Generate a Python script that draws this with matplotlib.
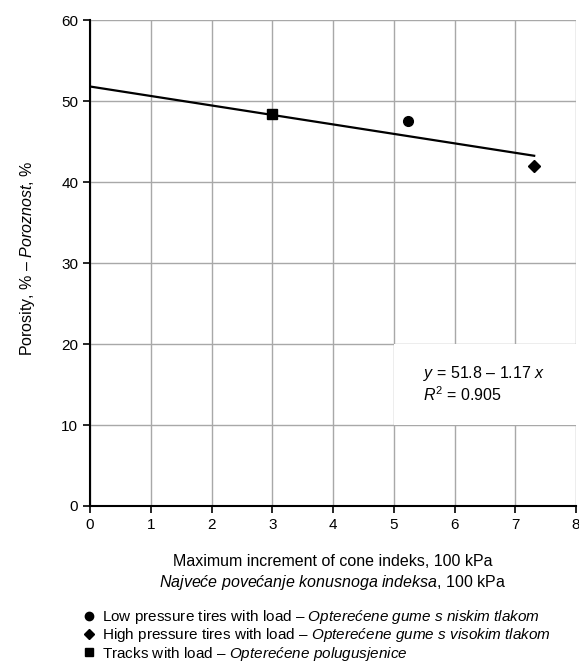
import matplotlib
matplotlib.use("Agg")
import matplotlib.pyplot as plt
from matplotlib.lines import Line2D
from matplotlib.patches import Rectangle

plt.rcParams['font.family'] = ['Liberation Sans', 'DejaVu Sans']
plt.rcParams['mathtext.fontset'] = 'custom'
plt.rcParams['mathtext.rm'] = 'Liberation Sans'
plt.rcParams['mathtext.it'] = 'Liberation Sans:italic'

# podaci sa slike
x_low = [5.24]
y_low = [47.5]
x_high = [7.31]
y_high = [42.0]
x_track = [3.0]
y_track = [48.4]

# regresija iz jednadzbe na grafu
intercept = 51.8
slope = -1.17
x_line = [0, 7.31]

labels = [
    "Low pressure tires with load – $\\mathit{Optere\u0107ene\\ gume\\ s\\ niskim\\ tlakom}$",
    "High pressure tires with load – $\\mathit{Optere\u0107ene\\ gume\\ s\\ visokim\\ tlakom}$",
    "Tracks with load – $\\mathit{Optere\u0107ene\\ polugusjenice}$",
]

fig = plt.figure(figsize=(5.79, 6.70), dpi=100)
ax = fig.add_axes([0.1554, 0.2448, 0.8396, 0.7252])

y_line = [intercept + slope * v for v in x_line]
ax.plot(x_line, y_line, color='black', lw=1.6, zorder=3)
ax.plot(x_low, y_low, 'o', color='black', ms=7, zorder=4)
ax.plot(x_high, y_high, 'D', color='black', ms=6.5, zorder=4)
ax.plot(x_track, y_track, 's', color='black', ms=7, zorder=4)

ax.set_xlim(0, 8)
ax.set_ylim(0, 60)
ax.set_xticks(range(0, 9))
ax.set_yticks(range(0, 61, 10))
ax.grid(True, color='#a8a8a8', lw=1.0)
ax.set_axisbelow(True)
for s in ['top', 'right']:
    ax.spines[s].set_visible(False)
for s in ['left', 'bottom']:
    ax.spines[s].set_linewidth(1.5)
ax.tick_params(direction='out', length=5, width=1.2, labelsize=11)

# bijeli okvir za jednadzbu
ax.add_patch(Rectangle((5, 10), 3, 10, facecolor='white', edgecolor='none', zorder=2))
ax.text(5.48, 16.4, "$\\mathit{y}$ = 51.8 – 1.17 $\\mathit{x}$", fontsize=11.5, va='center', zorder=5)
ax.text(5.48, 13.7, "$\\mathit{R}^2$ = 0.905", fontsize=11.5, va='center', zorder=5)

fig.text(28 / 579, 1 - 258 / 670, "Porosity, % – $\\mathit{Poroznost}$, %",
         fontsize=11.5, rotation=90, ha='center', va='center')

# natpis osi x u dva retka
fig.text(0.575, 1 - 562 / 670, "Maximum increment of cone indeks, 100 kPa",
         fontsize=11.5, ha='center', va='center')
fig.text(0.575, 1 - 583 / 670,
         "$\\mathit{Najve\u0107e\\ pove\u0107anje\\ konusnoga\\ indeksa}$, 100 kPa",
         fontsize=11.5, ha='center', va='center')

handles = [
    Line2D([], [], marker='o', color='black', ls='none', ms=6),
    Line2D([], [], marker='D', color='black', ls='none', ms=5.5),
    Line2D([], [], marker='s', color='black', ls='none', ms=6),
]
fig.legend(handles, labels, loc='upper left', bbox_to_anchor=(0.14, 1 - 608 / 670),
           frameon=False, fontsize=11, handletextpad=0.4, labelspacing=0.02,
           borderaxespad=0, borderpad=0, handlelength=1.0)

fig.savefig("out.png", dpi=100)
